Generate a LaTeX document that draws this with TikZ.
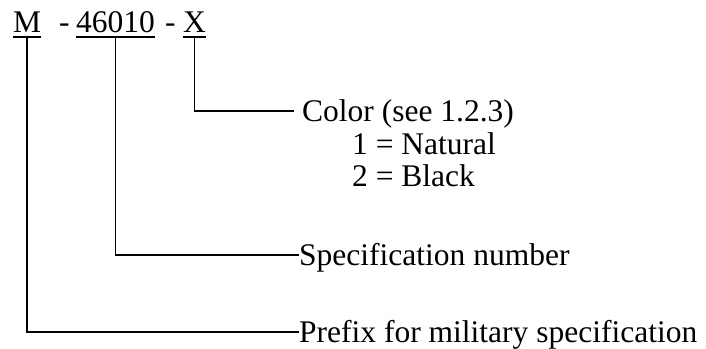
\documentclass[tikz,border=0pt]{standalone}
\usepackage{fontspec}
\setmainfont{Liberation Serif}
\begin{document}
\begin{tikzpicture}[x=1pt,y=1pt,
  txt/.style={anchor=base west, inner sep=0pt, font=\fontsize{31.5}{38}\selectfont},
  conn/.style={line width=1.6pt},
  ul/.style={line width=1.6pt}]
\useasboundingbox (0,0) rectangle (706,-348);
% top code
\node[txt] (M) at (13,-32) {M};
\node[txt] (d1) at (59,-32) {-};
\node[txt] (num) at (76,-32) {46010};
\node[txt] (d2) at (165,-32) {-};
\node[txt] (X) at (183,-32) {X};
\foreach \n in {M,num,X}{
  \draw[ul] ([yshift=-5pt]\n.base west) -- ([yshift=-5pt]\n.base east);
  \coordinate (\n u) at ([yshift=-5pt]\n.base);
}
% labels
\node[txt] (col) at (302,-121) {Color (see 1.2.3)};
\node[txt] (nat) at (352,-154) {1 = Natural};
\node[txt] (blk) at (352,-186) {2 = Black};
\node[txt] (spec) at (299,-265) {Specification number};
\node[txt] (pre) at (299,-342) {Prefix for military specification};
\coordinate (colend) at (294,-111);
\coordinate (specend) at (299,-255);
\coordinate (preend) at (299,-332);
% connectors
\draw[conn] (Xu) |- (colend);
\draw[conn] (numu) |- (specend);
\draw[conn] (Mu) |- (preend);
\end{tikzpicture}
\end{document}
